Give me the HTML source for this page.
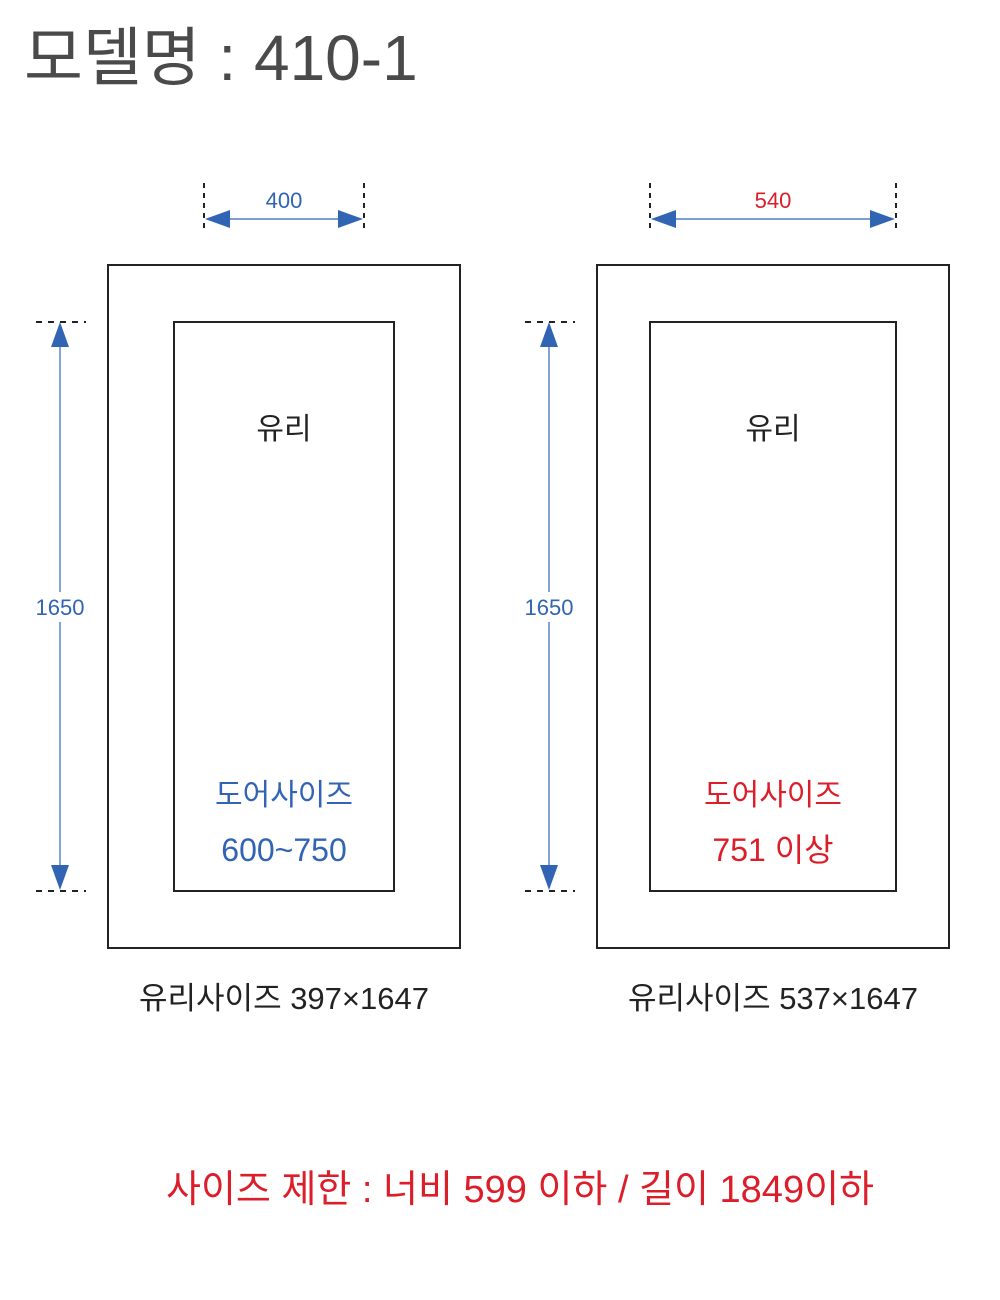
<!DOCTYPE html>
<html><head><meta charset="utf-8"><style>
html,body{margin:0;padding:0;background:#fff;}
svg{display:block;}
text{font-family:"Liberation Sans","Noto Sans CJK KR",sans-serif;}
</style></head><body>
<svg width="1000" height="1300" viewBox="0 0 1000 1300" xmlns="http://www.w3.org/2000/svg">
<text x="24" y="80" font-size="64" fill="#4a4a4a">모델명 : 410-1</text>

<g id="L">
<line x1="204" y1="183" x2="204" y2="232" stroke="#222" stroke-width="2" stroke-dasharray="5,5"/>
<line x1="364" y1="183" x2="364" y2="232" stroke="#222" stroke-width="2" stroke-dasharray="5,5"/>
<line x1="228" y1="219" x2="340" y2="219" stroke="#3264b4" stroke-width="1.2"/>
<polygon points="205,219 230,210 230,228" fill="#3264b4"/>
<polygon points="363,219 338,210 338,228" fill="#3264b4"/>
<text x="284" y="208" font-size="22" fill="#3264b4" text-anchor="middle">400</text>
<rect x="108" y="265" width="352" height="683" fill="none" stroke="#222" stroke-width="2"/>
<rect x="174" y="322" width="220" height="569" fill="none" stroke="#222" stroke-width="2"/>
<line x1="36" y1="322" x2="86" y2="322" stroke="#222" stroke-width="2" stroke-dasharray="6,6"/>
<line x1="36" y1="891" x2="86" y2="891" stroke="#222" stroke-width="2" stroke-dasharray="6,6"/>
<line x1="60" y1="345" x2="60" y2="592" stroke="#3264b4" stroke-width="1.2"/>
<line x1="60" y1="622" x2="60" y2="868" stroke="#3264b4" stroke-width="1.2"/>
<polygon points="60,322 51,347 69,347" fill="#3264b4"/>
<polygon points="60,890 51,865 69,865" fill="#3264b4"/>
<text x="60" y="615" font-size="22" fill="#3264b4" text-anchor="middle">1650</text>
<text x="284" y="439" font-size="30" fill="#222" text-anchor="middle">유리</text>
<text x="284" y="805" font-size="30" fill="#3264b4" text-anchor="middle">도어사이즈</text>
<text x="284" y="861" font-size="32" fill="#3264b4" text-anchor="middle">600~750</text>
<text x="284" y="1009" font-size="31" fill="#222" text-anchor="middle">유리사이즈 397×1647</text>
</g>

<g id="R">
<line x1="650" y1="183" x2="650" y2="232" stroke="#222" stroke-width="2" stroke-dasharray="5,5"/>
<line x1="896" y1="183" x2="896" y2="232" stroke="#222" stroke-width="2" stroke-dasharray="5,5"/>
<line x1="674" y1="219" x2="872" y2="219" stroke="#3264b4" stroke-width="1.2"/>
<polygon points="651,219 676,210 676,228" fill="#3264b4"/>
<polygon points="895,219 870,210 870,228" fill="#3264b4"/>
<text x="773" y="208" font-size="22" fill="#dc1e2a" text-anchor="middle">540</text>
<rect x="597" y="265" width="352" height="683" fill="none" stroke="#222" stroke-width="2"/>
<rect x="650" y="322" width="246" height="569" fill="none" stroke="#222" stroke-width="2"/>
<line x1="525" y1="322" x2="575" y2="322" stroke="#222" stroke-width="2" stroke-dasharray="6,6"/>
<line x1="525" y1="891" x2="575" y2="891" stroke="#222" stroke-width="2" stroke-dasharray="6,6"/>
<line x1="549" y1="345" x2="549" y2="592" stroke="#3264b4" stroke-width="1.2"/>
<line x1="549" y1="622" x2="549" y2="868" stroke="#3264b4" stroke-width="1.2"/>
<polygon points="549,322 540,347 558,347" fill="#3264b4"/>
<polygon points="549,890 540,865 558,865" fill="#3264b4"/>
<text x="549" y="615" font-size="22" fill="#3264b4" text-anchor="middle">1650</text>
<text x="773" y="439" font-size="30" fill="#222" text-anchor="middle">유리</text>
<text x="773" y="805" font-size="30" fill="#dc1e2a" text-anchor="middle">도어사이즈</text>
<text x="773" y="861" font-size="32" fill="#dc1e2a" text-anchor="middle">751 이상</text>
<text x="773" y="1009" font-size="31" fill="#222" text-anchor="middle">유리사이즈 537×1647</text>
</g>

<text x="520" y="1202" font-size="38" fill="#dc1e2a" text-anchor="middle">사이즈 제한 : 너비 599 이하 / 길이 1849이하</text>
</svg>
</body></html>
